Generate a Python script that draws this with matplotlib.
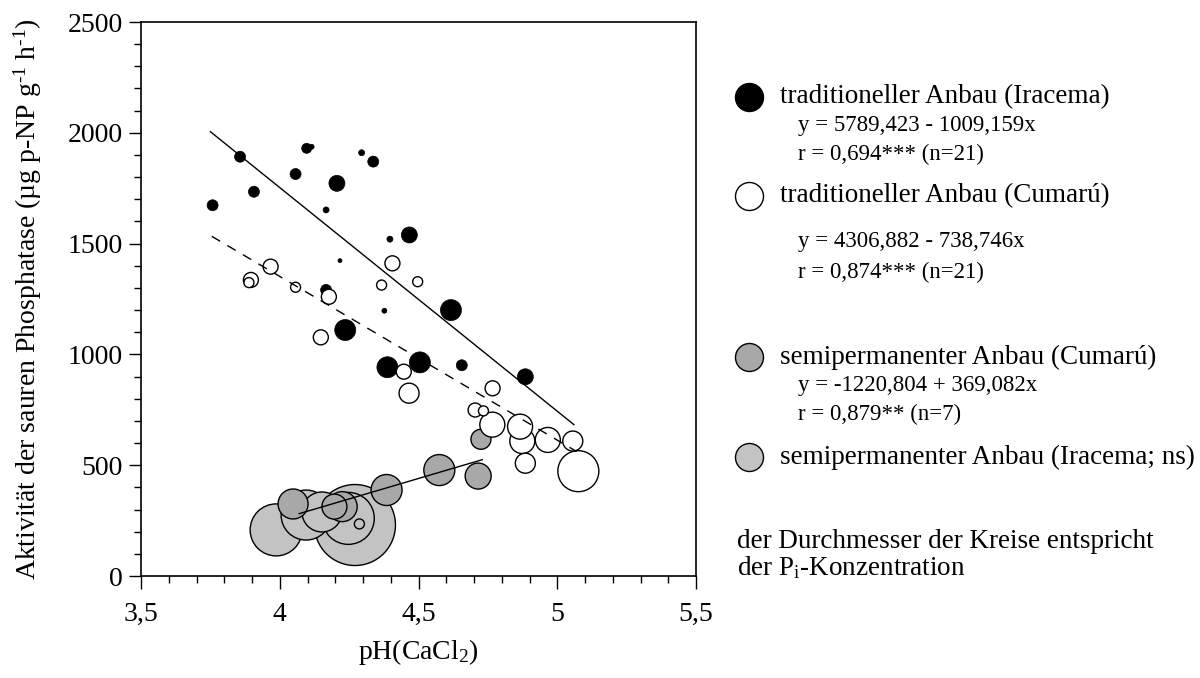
import matplotlib
matplotlib.use("Agg")
from matplotlib import pyplot as plt
import numpy as np

plt.rcParams['font.family'] = ['Liberation Serif', 'DejaVu Serif']
plt.rcParams['mathtext.fontset'] = 'custom'
plt.rcParams['mathtext.rm'] = 'Liberation Serif'
plt.rcParams['mathtext.it'] = 'Liberation Serif:italic'

# traditioneller Anbau (Iracema): pH, Aktivitaet, Kreisdurchmesser (px ~ Pi)
trad_ira_ph = [3.857, 4.097, 4.115, 4.057, 3.907, 3.758, 4.206, 4.295, 4.337, 4.167, 4.467,
               4.397, 4.217, 4.167, 4.377, 4.236, 4.388, 4.505, 4.656, 4.885, 4.617]
trad_ira_act = [1892, 1930, 1937, 1814, 1734, 1673, 1772, 1910, 1870, 1652, 1539,
                1520, 1423, 1291, 1197, 1110, 942, 964, 951, 899, 1200]
trad_ira_pi = [11, 10, 5, 11, 11, 11, 16, 6, 11, 6, 16,
               6, 4, 11, 5, 21, 21, 21, 11, 16, 21]

# traditioneller Anbau (Cumaru)
trad_cum_ph = [3.967, 3.896, 3.889, 4.057, 4.177, 4.406, 4.367, 4.497, 4.148, 4.447, 4.466,
               4.767, 4.704, 4.734, 4.766, 4.866, 4.874, 4.966, 5.056, 4.885, 5.076]
trad_cum_act = [1396, 1336, 1324, 1303, 1260, 1411, 1313, 1328, 1077, 922, 825,
                847, 749, 745, 683, 674, 609, 614, 609, 509, 473]
trad_cum_pi = [15, 15, 10, 10, 15, 15, 10, 10, 15, 15, 20,
               15, 14, 10, 25, 25, 25, 25, 20, 20, 41]

# semipermanenter Anbau (Cumaru)
semi_cum_ph = [4.048, 4.197, 4.225, 4.385, 4.575, 4.715, 4.725]
semi_cum_act = [325, 313, 313, 388, 478, 451, 617]
semi_cum_pi = [30, 25, 30, 31, 31, 26, 20]

# semipermanenter Anbau (Iracema; ns)
semi_ira_ph = [3.987, 4.095, 4.152, 4.271, 4.247, 4.287]
semi_ira_act = [208, 275, 289, 230, 260, 235]
semi_ira_pi = [52, 50, 40, 81, 52, 10]

# Regressionen: Achsenabschnitt, Steigung, x-Bereich
fit_ira = (5789.423, -1009.159, [3.75, 5.06])
fit_cum = (4306.882, -738.746, [3.755, 5.07])
fit_semi = (-1220.804, 369.082, [4.07, 4.73])


def sizes(d):
    return [(v * 0.72) ** 2 for v in d]


def sorted_group(ph, act, pi):
    idx = np.argsort(pi)[::-1]
    return (np.array(ph)[idx], np.array(act)[idx], np.array(pi)[idx])


fig = plt.figure(figsize=(12, 6.78), dpi=100)
ax = fig.add_axes([141 / 1200, 1 - 576 / 678, 555 / 1200, 554 / 678])

ew = 1.0
x, y, d = sorted_group(semi_ira_ph, semi_ira_act, semi_ira_pi)
ax.scatter(x, y, s=sizes(d), c='#c3c3c3', edgecolors='black', linewidths=ew, zorder=2)
x, y, d = sorted_group(semi_cum_ph, semi_cum_act, semi_cum_pi)
ax.scatter(x, y, s=sizes(d), c='#a8a8a8', edgecolors='black', linewidths=ew, zorder=3)
ax.scatter(trad_ira_ph, trad_ira_act, s=sizes(trad_ira_pi), c='black', edgecolors='black',
           linewidths=0.5, zorder=4)
x, y, d = sorted_group(trad_cum_ph, trad_cum_act, trad_cum_pi)
ax.scatter(x, y, s=sizes(d), c='white', edgecolors='black', linewidths=ew, zorder=5)

for (a, b, xr), ls in [(fit_ira, '-'), (fit_cum, '--'), (fit_semi, '-')]:
    xs = np.array(xr)
    line, = ax.plot(xs, a + b * xs, color='black', lw=1.0, ls=ls, zorder=6)
    if ls == '--':
        line.set_dashes((7, 6))

ax.set_xlim(3.5, 5.5)
ax.set_ylim(0, 2500)
ax.set_xticks([3.5, 4, 4.5, 5, 5.5])
ax.set_xticklabels(['3,5', '4', '4,5', '5', '5,5'])
ax.set_xticks(np.arange(3.5, 5.51, 0.1), minor=True)
ax.set_yticks([0, 500, 1000, 1500, 2000, 2500])
ax.set_yticks(np.arange(0, 2501, 100), minor=True)
ax.tick_params(axis='both', which='major', direction='out', length=9, width=1.0,
               labelsize=20)
ax.tick_params(axis='y', which='major', pad=4)
ax.tick_params(axis='x', which='major', pad=10)
ax.tick_params(axis='both', which='minor', direction='out', length=5, width=1.0)
for sp in ax.spines.values():
    sp.set_linewidth(1.2)

ax.set_xlabel('pH(CaCl$_2$)', fontsize=20, labelpad=7)
ax.set_ylabel('Aktivität der sauren Phosphatase (µg p-NP g$^{\\text{-1}}$ h$^{\\text{-1}}$)',
              fontsize=20, labelpad=17)

# Legende rechts, in Pixelkoordinaten
lg = fig.add_axes([0, 0, 1, 1])
lg.set_xlim(0, 1200)
lg.set_ylim(678, 0)
lg.axis('off')
lg.patch.set_alpha(0)

legend_rows = [
    ('black', 97, 'traditioneller Anbau (Iracema)',
     [(126, 'y = 5789,423 - 1009,159x'), (154, 'r = 0,694*** (n=21)')]),
    ('white', 196, 'traditioneller Anbau (Cumarú)',
     [(242, 'y = 4306,882 - 738,746x'), (272, 'r = 0,874*** (n=21)')]),
    ('#a8a8a8', 357, 'semipermanenter Anbau (Cumarú)',
     [(386, 'y = -1220,804 + 369,082x'), (414, 'r = 0,879** (n=7)')]),
    ('#c3c3c3', 457, 'semipermanenter Anbau (Iracema; ns)', []),
]
for col, yy, title, sub in legend_rows:
    lg.scatter([749], [yy], s=(28 * 0.72) ** 2, c=col, edgecolors='black', linewidths=1.0)
    lg.text(780, yy, title, fontsize=19.5, va='center', ha='left')
    for ys, txt in sub:
        lg.text(798, ys, txt, fontsize=16.5, va='center', ha='left')

lg.text(737, 542, 'der Durchmesser der Kreise entspricht', fontsize=19.5, va='center', ha='left')
lg.text(737, 568, 'der P$_\\mathrm{i}$-Konzentration', fontsize=19.5, va='center', ha='left')

fig.savefig('out.png', dpi=100)
